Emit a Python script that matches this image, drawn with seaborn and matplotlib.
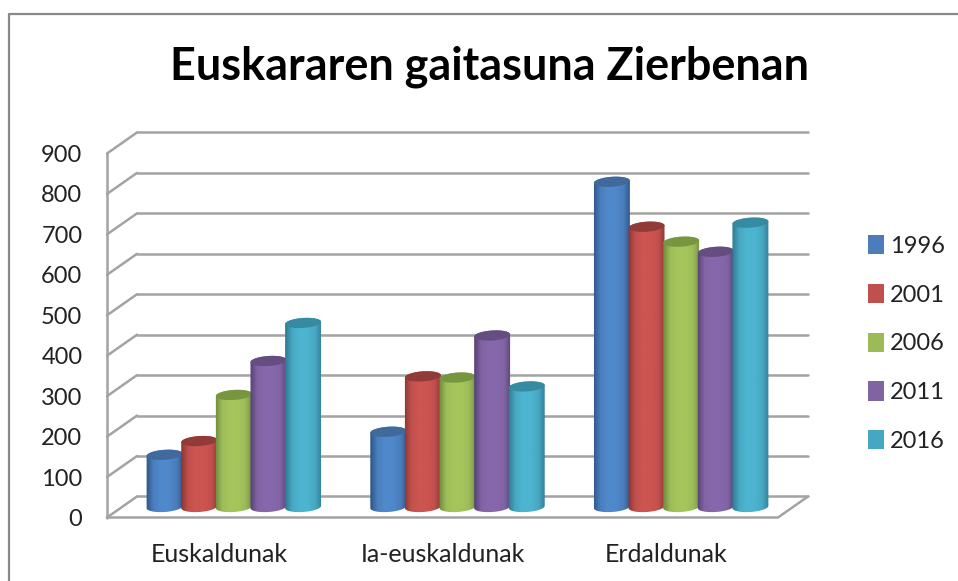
import numpy as np
import pandas as pd
import matplotlib
matplotlib.use('Agg')
import matplotlib.pyplot as plt
import seaborn as sns
from matplotlib.colors import LinearSegmentedColormap
from matplotlib.lines import Line2D
from matplotlib.patches import Patch, PathPatch, Polygon
from matplotlib.path import Path
from matplotlib.transforms import IdentityTransform

categories = ['Euskaldunak', 'Ia-euskaldunak', 'Erdaldunak']
years = ['1996', '2001', '2006', '2011', '2016']
v1996 = [129, 186, 804]
v2001 = [163, 323, 693]
v2006 = [277, 320, 656]
v2011 = [361, 424, 631]
v2016 = [455, 298, 703]
y_ticks = [0, 100, 200, 300, 400, 500, 600, 700, 800, 900]

base_colors = ['#4A7DBA', '#C0504D', '#9BBB59', '#8064A2', '#46A7C2']
light_colors = ['#5088CC', '#CD5451', '#A5C55C', '#8767AC', '#4DB4D0']
dark_colors = ['#2A5080', '#823230', '#68853A', '#513B70', '#2A7489']
cap_colors = ['#3F6A9B', '#913B39', '#78953F', '#644D80', '#368BA3']
grid_color = '#A3A3A3'

# depth of the fake 3d box, in data units, seen from the plane of the bars
depth_x = 0.067
depth_y = 26

df = pd.DataFrame({'category': categories, '1996': v1996, '2001': v2001,
                   '2006': v2006, '2011': v2011, '2016': v2016})
df = df.melt(id_vars='category', var_name='year', value_name='value')

sns.set_theme(style='white')
plt.rcParams['font.family'] = ['Lato', 'DejaVu Sans']

W, H = 958, 581
fig = plt.figure(figsize=(W / 100, H / 100), dpi=100, facecolor='white')
ax = fig.add_axes([122 / W, (H - 517.5) / H, 671 / W, 374.5 / H])

sns.barplot(data=df, x='category', y='value', hue='year', order=categories,
            hue_order=years, palette=base_colors, width=0.774, gap=0,
            errorbar=None, legend=False, ax=ax)
bars = sorted(ax.patches, key=lambda b: b.get_x())
ax.set_xlabel('')
ax.set_ylabel('')
sns.despine(ax=ax, left=True, bottom=True)
ax.patch.set_alpha(0)

# walls: back grid lines, diagonals and front edges
for t in y_ticks:
    ax.plot([-0.5 + depth_x, 2.5 + depth_x], [t + depth_y, t + depth_y],
            color=grid_color, lw=1.8, clip_on=False, zorder=1)
    ax.plot([-0.5 - depth_x, -0.5 + depth_x], [t - depth_y, t + depth_y],
            color=grid_color, lw=1.8, clip_on=False, zorder=1)
ax.plot([-0.5 - depth_x, -0.5 - depth_x], [-depth_y, 900 - depth_y],
        color=grid_color, lw=1.8, clip_on=False, zorder=1)
ax.plot([-0.5 - depth_x, 2.5 - depth_x, 2.5 + depth_x],
        [-depth_y, -depth_y, depth_y],
        color=grid_color, lw=1.8, clip_on=False, zorder=1)

ax.set_yticks([t - depth_y for t in y_ticks])
ax.set_yticklabels([str(t) for t in y_ticks], fontsize=17, color='#222222')
ax.set_xticks([i - depth_x for i in range(len(categories))])
ax.set_xticklabels(categories, fontsize=18, color='#222222')
ax.tick_params(axis='y', length=0, pad=28.5)
ax.tick_params(axis='x', length=0, pad=18)
ax.set_xlim(-0.5, 2.5)
ax.set_ylim(-depth_y, 900)


def ellipse_points(cx, cy, w, h, start, stop, tilt=4, n=40):
    a = np.radians(np.linspace(start, stop, n))
    x = w / 2 * np.cos(a)
    y = h / 2 * np.sin(a)
    r = np.radians(tilt)
    return np.column_stack([cx + x * np.cos(r) - y * np.sin(r),
                            cy + x * np.sin(r) + y * np.cos(r)])


# every bar from seaborn gets a shaded body and an elliptic cap
for b in bars:
    b.set_visible(False)

n_years = len(years)
for c in range(len(categories)):
    for j in range(n_years):
        bar = bars[c * n_years + j]
        x0, x1 = bar.get_x(), bar.get_x() + bar.get_width()
        val = bar.get_height()
        (px0, py0), (px1, py1) = ax.transData.transform([(x0, 0), (x1, val)])
        cx = (px0 + px1) / 2
        w = (px1 - px0) * 1.04
        bottom = ellipse_points(cx, py0, w, 10, 180, 360)
        top = ellipse_points(cx, py1, w, 10, 0, 180)
        outline = np.vstack([bottom, top])
        cmap = LinearSegmentedColormap.from_list(
            'c', [dark_colors[j], base_colors[j], light_colors[j],
                  light_colors[j], base_colors[j], dark_colors[j]])
        pad = 0.01
        stops = np.array([0, .2, .38, .6, .8, 1.0])
        shade = np.interp(np.linspace(0, 1, 64), stops, [0, .2, .42, .6, .8, 1])
        zo = 3 + j * 0.1
        im = ax.imshow(shade[None, :], cmap=cmap, aspect='auto', vmin=0, vmax=1,
                       extent=(x0 - pad, x1 + pad, -depth_y, val + 20), zorder=zo,
                       interpolation='bilinear')
        im.set_clip_path(PathPatch(Path(outline), transform=IdentityTransform()))
        ax.add_patch(Polygon(ellipse_points(cx, py1, w, 10, 0, 360), closed=True,
                             facecolor=cap_colors[j], edgecolor='none',
                             transform=IdentityTransform(), zorder=zo, clip_on=False))
ax.set_xlim(-0.5, 2.5)
ax.set_ylim(-depth_y, 900)

# legend on the right
handles = [Patch(facecolor=c, edgecolor='none', label=y)
           for c, y in zip(base_colors, years)]
fig.legend(handles=handles, loc='center left', bbox_to_anchor=(868 / W, (H - 343.5) / H),
           frameon=False, fontsize=17, handlelength=0.68, handleheight=0.88,
           handletextpad=0.25, labelspacing=1.14, labelcolor='#222222',
           borderpad=0, borderaxespad=0)

fig.text(490 / W, (H - 67) / H, 'Euskararen gaitasuna Zierbenan', fontsize=32.4,
         fontweight='bold', color='black', ha='center', va='center')

# chart frame, it runs off the picture on the right and the bottom
fig.add_artist(Line2D([9 / W, 9 / W, 1], [0, (H - 14) / H, (H - 14) / H],
                      color='#888888', lw=1.6))

fig.savefig('out.png', dpi=100)
